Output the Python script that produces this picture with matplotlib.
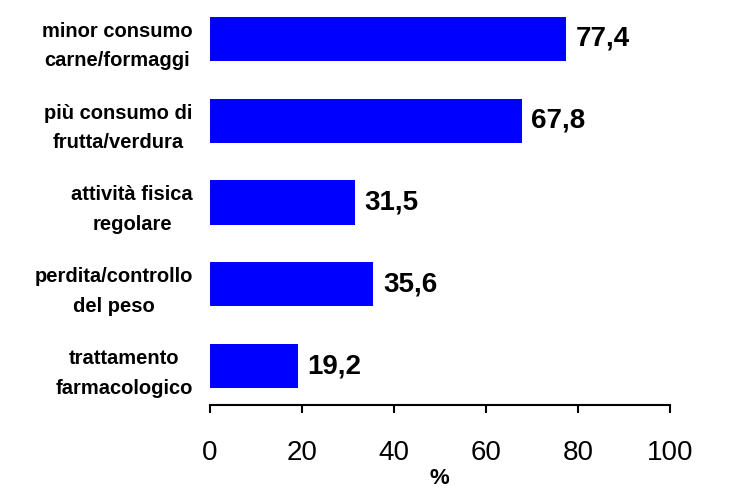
import matplotlib
matplotlib.use("Agg")
import matplotlib.pyplot as plt

plt.rcParams['font.family'] = ['Liberation Sans', 'DejaVu Sans']

categories = [
    "minor consumo\ncarne/formaggi",
    "più consumo di\nfrutta/verdura",
    "attività fisica\nregolare",
    "perdita/controllo\ndel peso",
    "trattamento\nfarmacologico",
]
values = [77.4, 67.8, 31.5, 35.6, 19.2]
value_labels = ["77,4", "67,8", "31,5", "35,6", "19,2"]
x_ticks = [0, 20, 40, 60, 80, 100]

fig = plt.figure(figsize=(7.3, 4.93), dpi=100)
ax = fig.add_axes([209.5 / 730, 1 - 405 / 493, (670 - 209.5) / 730, 405 / 493])

pos = list(range(len(categories)))
ax.barh(pos, values, height=0.54, color="#0000FF", edgecolor="none")

for p, v, lab in zip(pos, values, value_labels):
    ax.annotate(lab, xy=(v, p), xytext=(7, 0), textcoords="offset points",
                ha="left", va="center", fontsize=20, fontweight="bold")

ax.set_xlim(0, 100)
ax.set_ylim(4.477, -0.477)
ax.set_xticks(x_ticks)
ax.set_xticklabels([str(t) for t in x_ticks], fontsize=20)
ax.set_yticks(pos)
ax.set_yticklabels(categories, fontsize=14.5, fontweight="bold",
                   multialignment="center", linespacing=1.7)
ax.tick_params(axis="y", length=0, pad=12)
ax.tick_params(axis="x", direction="out", length=5.5, width=1.5, pad=20)

for s in ("left", "top", "right"):
    ax.spines[s].set_visible(False)
ax.spines["bottom"].set_linewidth(1.5)

ax.set_xlabel("%", fontsize=16, fontweight="bold", labelpad=1)

fig.savefig("out.png", dpi=100)
